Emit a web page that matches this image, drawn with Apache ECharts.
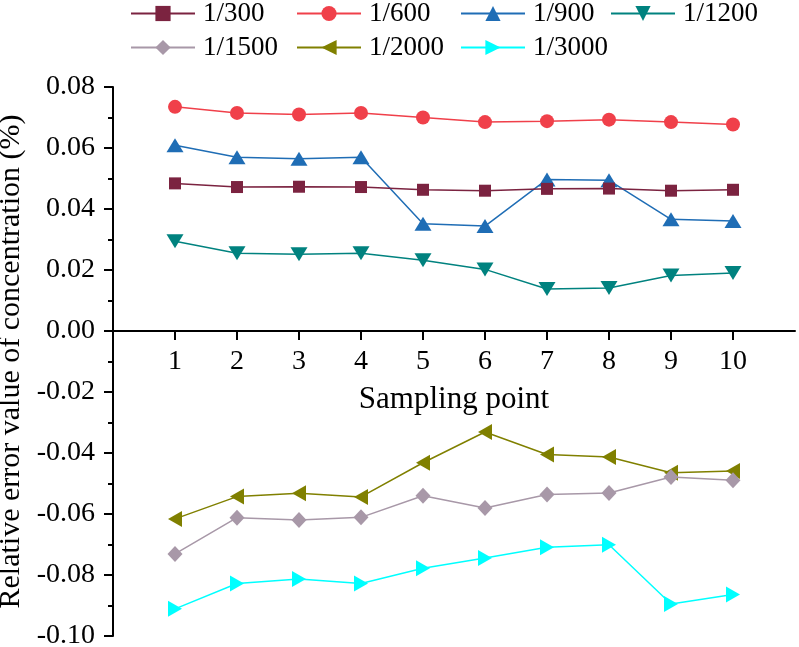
<!DOCTYPE html>
<html>
<head>
<meta charset="utf-8">
<script src="https://cdn.jsdelivr.net/npm/echarts@6/dist/echarts.min.js"></script>
<style>
  html, body { margin: 0; padding: 0; background: #fff; }
  #chart { width: 799px; height: 647px; }
</style>
</head>
<body>
<div id="chart"></div>
<script>
const samplingPoints = [1, 2, 3, 4, 5, 6, 7, 8, 9, 10];

const ratio300 = [0.0484, 0.0472, 0.0473, 0.0472, 0.0463, 0.0460, 0.0466, 0.0467, 0.0460, 0.0463];
const ratio600 = [0.0735, 0.0715, 0.0710, 0.0715, 0.0700, 0.0685, 0.0688, 0.0693, 0.0685, 0.0677];
const ratio900 = [0.0609, 0.0570, 0.0565, 0.0570, 0.0352, 0.0344, 0.0497, 0.0494, 0.0366, 0.0361];
const ratio1200 = [0.0294, 0.0255, 0.0252, 0.0255, 0.0232, 0.0202, 0.0138, 0.0141, 0.0182, 0.0190];
const ratio1500 = [-0.0731, -0.0612, -0.0620, -0.0611, -0.0540, -0.0580, -0.0536, -0.0531, -0.0479, -0.0489];
const ratio2000 = [-0.0616, -0.0543, -0.0532, -0.0544, -0.0432, -0.0331, -0.0405, -0.0413, -0.0465, -0.0459];
const ratio3000 = [-0.0911, -0.0828, -0.0813, -0.0828, -0.0778, -0.0744, -0.0709, -0.0701, -0.0895, -0.0864];

const seriesNames = ["1/300", "1/600", "1/900", "1/1200", "1/1500", "1/2000", "1/3000"];
const seriesData = [ratio300, ratio600, ratio900, ratio1200, ratio1500, ratio2000, ratio3000];
const seriesColors = ["#7b2340", "#f0404a", "#1f6db5", "#00827f", "#a898a8", "#808000", "#00ffff"];
const seriesSymbols = ["rect", "circle", "triangle", "triangle", "diamond", "triangle", "triangle"];
const seriesRotate = [0, 0, 0, 180, 0, 90, -90];
const seriesSymbolSize = [12, 14, [17, 14], [17, 14], [15, 16], [16, 14], [16, 14]];

const fontFamily = "'Liberation Serif', 'Times New Roman', serif";
const axisColor = "#000";

// legend slots, two rows like the original
const legendSlots = [
  { left: 130, top: 0 },
  { left: 296, top: 0 },
  { left: 460, top: 0 },
  { left: 610, top: 0 },
  { left: 130, top: 34 },
  { left: 296, top: 34 },
  { left: 460, top: 34 }
];

const yMin = -0.1;
const yMax = 0.08;
const gridTop = 87;
const gridBottom = 11;
const plotHeight = 647 - gridTop - gridBottom;
// the x axis sits on y = 0, labels go with it
const zeroOffset = -plotHeight * (0 - yMin) / (yMax - yMin);

const chart = echarts.init(document.getElementById("chart"), null, { renderer: "canvas" });

chart.setOption({
  animation: false,
  backgroundColor: "#fff",
  legend: seriesNames.map((name, i) => ({
    data: [name],
    left: legendSlots[i].left,
    top: legendSlots[i].top,
    itemWidth: 64,
    itemHeight: 19,
    padding: 0,
    textStyle: {
      fontFamily: fontFamily,
      fontSize: 27,
      color: "#000",
      padding: [0, 0, 0, 3]
    }
  })),
  grid: {
    left: 113,
    right: 4,
    top: gridTop,
    bottom: gridBottom,
    containLabel: false,
    outerBoundsMode: "none"
  },
  xAxis: {
    type: "value",
    min: 0,
    max: 11,
    interval: 1,
    offset: zeroOffset,
    name: "Sampling point",
    nameLocation: "middle",
    nameGap: 53,
    nameTextStyle: {
      fontFamily: fontFamily,
      fontSize: 31,
      color: "#000"
    },
    axisLine: {
      onZero: false,
      lineStyle: { color: axisColor, width: 2 }
    },
    axisTick: {
      show: true,
      length: 9,
      customValues: samplingPoints,
      lineStyle: { color: axisColor, width: 2 }
    },
    axisLabel: {
      customValues: samplingPoints,
      margin: 17,
      fontFamily: fontFamily,
      fontSize: 28,
      color: "#000"
    },
    splitLine: { show: false }
  },
  yAxis: {
    type: "value",
    min: yMin,
    max: yMax,
    interval: 0.02,
    name: "Relative error value of concentration (%)",
    nameLocation: "middle",
    nameGap: 83,
    nameTextStyle: {
      fontFamily: fontFamily,
      fontSize: 30,
      color: "#000"
    },
    axisLine: {
      show: true,
      lineStyle: { color: axisColor, width: 2 }
    },
    axisTick: {
      show: true,
      length: 9,
      lineStyle: { color: axisColor, width: 2 }
    },
    minorTick: {
      show: true,
      splitNumber: 2,
      length: 5,
      lineStyle: { color: axisColor, width: 2 }
    },
    axisLabel: {
      margin: 18,
      fontFamily: fontFamily,
      fontSize: 28,
      color: "#000",
      formatter: (value) => Number(value).toFixed(2)
    },
    splitLine: { show: false }
  },
  series: seriesNames.map((name, i) => ({
    name: name,
    type: "line",
    data: samplingPoints.map((x, j) => [x, seriesData[i][j]]),
    symbol: seriesSymbols[i],
    symbolSize: seriesSymbolSize[i],
    symbolRotate: seriesRotate[i],
    showAllSymbol: true,
    color: seriesColors[i],
    itemStyle: { color: seriesColors[i] },
    lineStyle: { color: seriesColors[i], width: 1.5 },
    emphasis: { disabled: true },
    z: 10 - i
  }))
});
</script>
</body>
</html>
